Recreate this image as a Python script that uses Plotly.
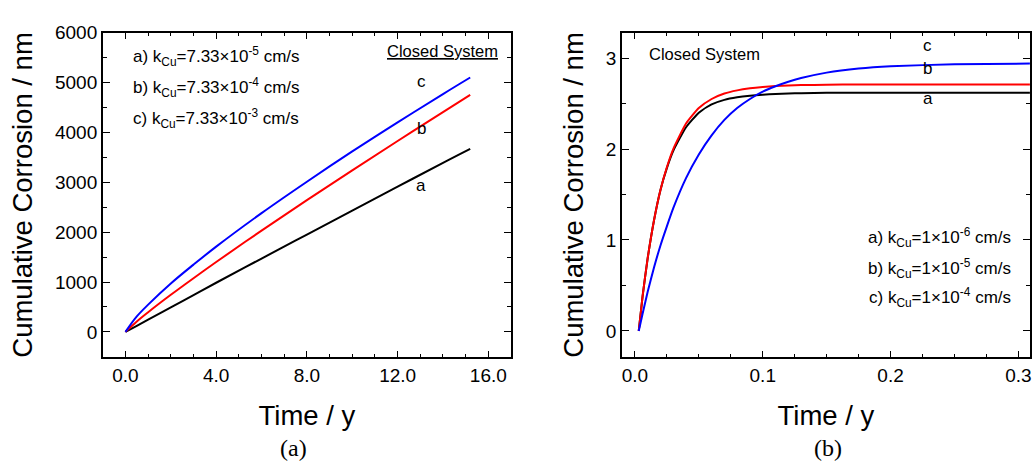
import plotly.graph_objects as go

# ---------------- data: panel (a) ----------------
t_a = [0.0, 0.5, 1.0, 2.0, 3.0, 4.0, 6.0, 8.0, 10.0, 12.0, 14.0, 15.2]
corr_a_a = [0, 122, 245, 490, 738, 985, 1470, 1950, 2430, 2910, 3390, 3670]
corr_a_b = [0, 209, 394, 743, 1076, 1401, 2030, 2640, 3238, 3827, 4406, 4750]
corr_a_c = [0, 310, 546, 970, 1348, 1709, 2380, 3010, 3617, 4200, 4768, 5100]

# ---------------- data: panel (b) ----------------
t_b = [0.003, 0.006, 0.010, 0.015, 0.020, 0.025, 0.030, 0.040, 0.050, 0.060,
       0.070, 0.080, 0.090, 0.100, 0.110, 0.120, 0.130, 0.150, 0.175, 0.200, 0.250, 0.310]
corr_b_a = [0.0, 0.38, 0.80, 1.22, 1.55, 1.79, 1.98, 2.24, 2.40, 2.49,
            2.54, 2.568, 2.586, 2.598, 2.606, 2.611, 2.614, 2.618, 2.62, 2.62, 2.62, 2.62]
corr_b_b = [0.0, 0.38, 0.80, 1.22, 1.55, 1.80, 2.00, 2.28, 2.45, 2.55,
            2.61, 2.645, 2.668, 2.683, 2.693, 2.699, 2.703, 2.707, 2.709, 2.71, 2.71, 2.71]
corr_b_c = [0.0, 0.19, 0.43, 0.70, 0.94, 1.15, 1.35, 1.68, 1.94, 2.15,
            2.32, 2.45, 2.55, 2.63, 2.69, 2.74, 2.78, 2.84, 2.885, 2.91, 2.932, 2.94]

legend_a = ["a) k<sub>Cu</sub>=7.33×10<sup>-5</sup> cm/s",
            "b) k<sub>Cu</sub>=7.33×10<sup>-4</sup> cm/s",
            "c) k<sub>Cu</sub>=7.33×10<sup>-3</sup> cm/s"]
legend_b = ["a) k<sub>Cu</sub>=1×10<sup>-6</sup> cm/s",
            "b) k<sub>Cu</sub>=1×10<sup>-5</sup> cm/s",
            "c) k<sub>Cu</sub>=1×10<sup>-4</sup> cm/s"]

FONT = "Liberation Sans, Arial, sans-serif"
colors = {"a": "#000000", "b": "#ff0000", "c": "#0000ff"}

fig = go.Figure()
for name, ys in (("a", corr_a_a), ("b", corr_a_b), ("c", corr_a_c)):
    fig.add_trace(go.Scatter(x=t_a, y=ys, mode="lines", line=dict(color=colors[name], width=2, shape="spline"),
                             xaxis="x", yaxis="y", showlegend=False, name=name))
for name, ys in (("a", corr_b_a), ("b", corr_b_b), ("c", corr_b_c)):
    fig.add_trace(go.Scatter(x=t_b, y=ys, mode="lines", line=dict(color=colors[name], width=2, shape="spline", smoothing=0.5),
                             xaxis="x2", yaxis="y2", showlegend=False, name=name))

common_ax = dict(showline=True, linecolor="black", linewidth=1.5, mirror="allticks",
                 ticks="inside", ticklen=7, tickwidth=1.2, tickcolor="black",
                 showgrid=False, zeroline=False,
                 tickfont=dict(family=FONT, size=19, color="black"),
                 title_font=dict(family=FONT, size=27.5, color="black"))

fig.update_layout(
    width=1035, height=462,
    margin=dict(l=0, r=0, t=0, b=0),
    paper_bgcolor="white", plot_bgcolor="white",
    font=dict(family=FONT, color="black"),
    xaxis=dict(domain=[0.0995, 0.4947], range=[-1.0, 17.0], dtick=4, tick0=0, tickformat=".1f",
               minor=dict(dtick=1, ticks="inside", ticklen=4, tickcolor="black"),
               title=dict(text="Time / y", standoff=21), anchor="y", **common_ax),
    yaxis=dict(domain=[0.2316, 0.950], range=[-510, 6000], dtick=1000, tick0=0,
               minor=dict(dtick=500, ticks="inside", ticklen=4, tickcolor="black"),
               title=dict(text="Cumulative Corrosion / nm", standoff=14), anchor="x", **common_ax),
    xaxis2=dict(domain=[0.602, 0.997], range=[-0.0102, 0.309], dtick=0.1, tick0=0, tickformat=".1f",
                minor=dict(dtick=0.025, ticks="inside", ticklen=4, tickcolor="black"),
                title=dict(text="Time / y", standoff=21), anchor="y2", **common_ax),
    yaxis2=dict(domain=[0.2316, 0.950], range=[-0.29, 3.28], dtick=1, tick0=0,
                minor=dict(dtick=0.5, ticks="inside", ticklen=4, tickcolor="black"),
                title=dict(text="Cumulative Corrosion / nm", standoff=14), anchor="x2", **common_ax),
)

ann = []
# panel (a) legend text
for txt, yv in zip(legend_a, [5520, 4900, 4270]):
    ann.append(dict(x=0.26, y=yv, xref="x", yref="y", text=txt, showarrow=False, xanchor="left",
                    yanchor="middle", font=dict(family=FONT, size=17, color="black")))
ann.append(dict(x=16.5, y=5630, xref="x", yref="y", text="<u>Closed System</u>", showarrow=False,
                xanchor="right", yanchor="middle", font=dict(family=FONT, size=16.5, color="black")))
for lab, yv in (("c", 5016), ("b", 4080), ("a", 2940)):
    ann.append(dict(x=13.05, y=yv, xref="x", yref="y", text=lab, showarrow=False,
                    font=dict(family=FONT, size=17, color="black")))
# panel (b)
ann.append(dict(x=0.0094, y=3.04, xref="x2", yref="y2", text="Closed System", showarrow=False,
                xanchor="left", yanchor="middle", font=dict(family=FONT, size=16.5, color="black")))
for lab, yv in (("c", 3.14), ("b", 2.88), ("a", 2.56)):
    ann.append(dict(x=0.229, y=yv, xref="x2", yref="y2", text=lab, showarrow=False,
                    font=dict(family=FONT, size=17, color="black")))
for txt, yv in zip(legend_b, [1.03, 0.69, 0.365]):
    ann.append(dict(x=0.296, y=yv, xref="x2", yref="y2", text=txt, showarrow=False, xanchor="right",
                    yanchor="middle", font=dict(family=FONT, size=17, color="black")))
# captions
ann.append(dict(x=294 / 1035, y=1 - 448 / 462, xref="paper", yref="paper", text="(a)", showarrow=False,
                xanchor="center", yanchor="middle", font=dict(family="Liberation Serif, serif", size=24, color="black")))
ann.append(dict(x=830 / 1035, y=1 - 448 / 462, xref="paper", yref="paper", text="(b)", showarrow=False,
                xanchor="center", yanchor="middle", font=dict(family="Liberation Serif, serif", size=24, color="black")))
fig.update_layout(annotations=ann)

fig.write_html("out.html")
